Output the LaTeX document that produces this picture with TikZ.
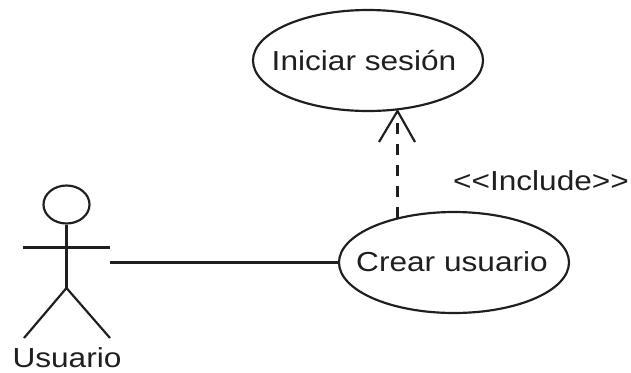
\documentclass[tikz,border=0pt]{standalone}
\usepackage{fontspec}
\setmainfont[FakeStretch=1.15]{Liberation Sans}
\usetikzlibrary{shapes.geometric}
\newlength{\pxu}
\setlength{\pxu}{0.6pt}
\colorlet{inkcol}{black!88}
\tikzset{usecase/.style={draw=inkcol,ellipse,minimum width=230\pxu,minimum height=101\pxu,inner sep=0pt},
lbl/.style={inner sep=0pt,anchor=base,text=inkcol,font=\fontsize{16.5}{18}\selectfont}}
\begin{document}
\begin{tikzpicture}[x=0.6pt,y=-0.6pt,line width=1.3pt]
\useasboundingbox (0,0) rectangle (631,372);
\node[usecase] (U1) at (368,60.5) {};
\node[usecase] (U2) at (454,262.5) {};
\node[lbl] (T1) at (364,70) {Iniciar sesión};
\node[lbl] (T2) at (452,271) {Crear usuario};
\node[lbl] (L1) at (541,190.5) {<{}<Include>{}>};
\node[lbl] (L2) at (67,367) {Usuario};
% actor
\node[draw=inkcol,ellipse,minimum width=46\pxu,minimum height=38\pxu,inner sep=0pt] (H) at (66.5,204.5) {};
\coordinate (Hip) at (66.5,288);
\coordinate (ArmL) at (23,247.5);
\coordinate (ArmR) at (110,247.5);
\coordinate (FootL) at (24,338);
\coordinate (FootR) at (110,338);
\coordinate (Hand) at (110,262.5);
\draw[inkcol] (H.south)--(Hip);
\draw[inkcol] (ArmL)--(ArmR);
\draw[inkcol] (FootL)--(Hip)--(FootR);
\draw[inkcol] (Hand)--(U2.west);
% include arrow
\coordinate (A0) at (397.5,218);
\coordinate (A1) at (397.5,111);
\coordinate (HeadL) at (379,142);
\coordinate (HeadR) at (415,142);
\draw[inkcol,dash pattern=on 6.6pt off 6pt] (A0)--(A1);
\draw[inkcol] (HeadL)--(A1)--(HeadR);
\end{tikzpicture}
\end{document}
